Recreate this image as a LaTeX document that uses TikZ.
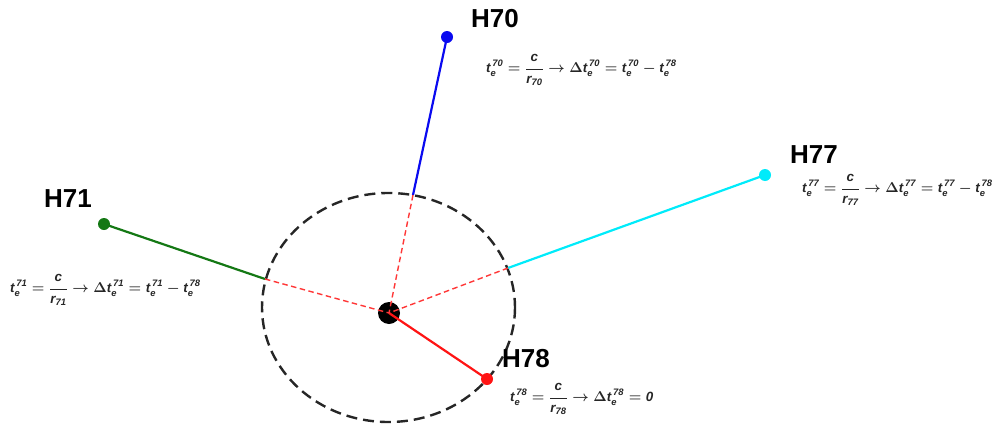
\documentclass[tikz,border=0pt]{standalone}
\usepackage{fontspec}
\setmainfont{Liberation Sans}
\usepackage{amsmath}
\definecolor{hgreen}{RGB}{20,120,20}
\definecolor{hcyan}{RGB}{0,235,250}
\definecolor{hred}{RGB}{255,20,20}
\definecolor{hblue}{RGB}{10,10,240}
\newcommand\iv[1]{\text{\itshape\bfseries #1}}
\newcommand\tv[1]{\iv{t}_{\iv{e}}^{\,\iv{#1}}}
\newcommand\frm[2]{$\boldmath\displaystyle\tv{#1}=\frac{\iv{c}}{\iv{r}_{\iv{#1}}}\rightarrow\Delta\tv{#1}=#2$}
\begin{document}
\begin{tikzpicture}[x=1pt,y=-1pt,
  dotn/.style={circle,inner sep=0pt,minimum size=12pt,fill=#1},
  lab/.style={font=\fontsize{26}{28}\selectfont\bfseries,inner sep=0pt},
  frmn/.style={anchor=west,inner sep=0pt,font=\fontsize{13.4}{16}\selectfont,text=black!85},
  ray/.style={line width=2.2pt,draw=#1},
  hid/.style={draw=hred!85,line width=1.4pt,dash pattern=on 5.5pt off 3.5pt},
]
\useasboundingbox (0,0) rectangle (997,426);
% dashed circle
\draw[line width=2.4pt,black!85,dash pattern=on 11pt off 6pt] (388.5,307.5) ellipse [x radius=126.5, y radius=114.5];
% circle crossing points
\coordinate (c70) at (413,195);
\coordinate (c77) at (508,268);
\coordinate (c71) at (265,279);
% centre
\node[dotn=black,minimum size=22pt] (ctr) at (389,313) {};
% endpoint dots
\node[dotn=hblue] (p70) at (447,37) {};
\node[dotn=hcyan] (p77) at (765,175) {};
\node[dotn=hgreen] (p71) at (104,224) {};
\node[dotn=hred] (p78) at (487,379) {};
% solid rays
\draw[ray=hblue] (p70.center) -- (c70);
\draw[ray=hcyan] (p77.center) -- (c77);
\draw[ray=hgreen] (p71.center) -- (c71);
\draw[ray=hred] (ctr.center) -- (p78.center);
% dashed red lines
\draw[hid] (c70) -- (ctr.center);
\draw[hid] (c77) -- (ctr.center);
\draw[hid] (c71) -- (ctr.center);
% labels
\node[lab] (l70) at (495,19) {H70};
\node[lab] (l77) at (814,155) {H77};
\node[lab] (l71) at (68,199) {H71};
\node[lab] (l78) at (526,359) {H78};
% formulas
\node[frmn] (f70) at (486,70) {\frm{70}{\tv{70}-\tv{78}}};
\node[frmn] (f77) at (802,190) {\frm{77}{\tv{77}-\tv{78}}};
\node[frmn] (f71) at (10,290) {\frm{71}{\tv{71}-\tv{78}}};
\node[frmn] (f78) at (510,399) {\frm{78}{\iv{0}}};
\end{tikzpicture}
\end{document}
